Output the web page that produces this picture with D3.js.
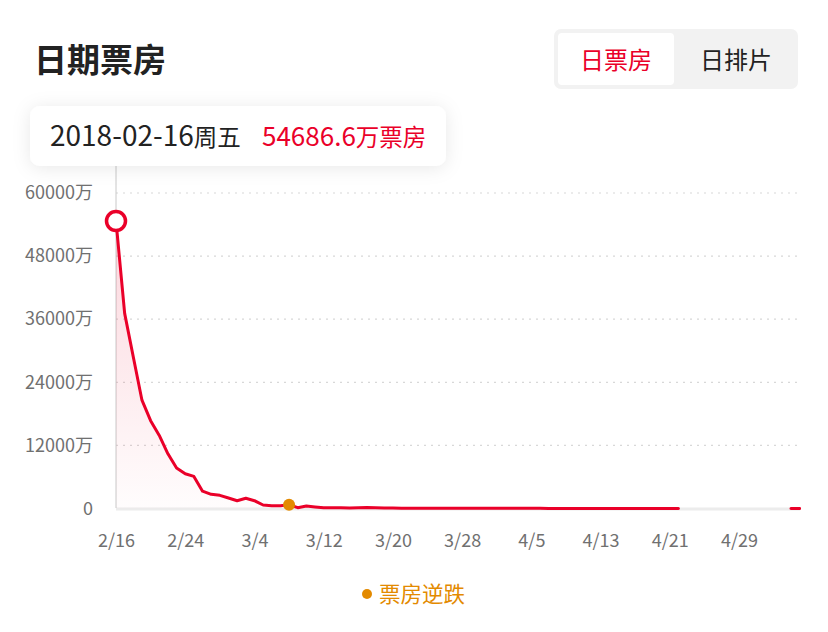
<!DOCTYPE html>
<html>
<head>
<meta charset="utf-8">
<script src="https://cdn.jsdelivr.net/npm/d3@7"></script>
<style>
  body { margin: 0; background: #fff; }
  svg { display: block; font-family: "Noto Sans CJK SC", "Noto Sans", sans-serif; }
</style>
</head>
<body>
<svg id="chart" width="828" height="632"></svg>
<script>
// daily box office (万), one value per day starting 2018-02-16
var startDay = "2018-02-16"
var boxOffice = [54686.6, 37100, 28800, 20600, 16700, 13900, 10400, 7700, 6600, 6100,
  3300, 2700, 2500, 2000, 1480, 1940, 1480, 670, 530, 520,
  720, 160, 470, 300, 150, 140, 120, 110, 130, 170,
  120, 90, 80, 70, 65, 60, 70, 60, 50, 45,
  40, 38, 36, 35, 33, 30, 28, 27, 25, 24,
  22, 21, 20, 19, 18, 17, 16, 15, 14, 13,
  12, 12, 11, 10, 10, 9]
// later screenings after the gap
var tailDays = ["2018-05-05", "2018-05-06"]
var tailValues = [3, 2]
// days where box office rose against the previous day
var reverseDays = ["2018-03-08"]
var yTicks = [0, 12000, 24000, 36000, 48000, 60000]
var xTicks = ["2018-02-16", "2018-02-24", "2018-03-04", "2018-03-12", "2018-03-20",
  "2018-03-28", "2018-04-05", "2018-04-13", "2018-04-21", "2018-04-29"]
var domainEnd = "2018-05-06"

var red = "#ea0029"
var orange = "#e38a00"
var parse = d3.timeParse("%Y-%m-%d")
var fmtDay = d3.timeFormat("%Y-%m-%d")

var series = boxOffice.map(function(v, i){
  return { date: d3.timeDay.offset(parse(startDay), i), value: v }
})
var gap = { date: d3.timeDay.offset(series[series.length-1].date, 1), value: null }
var tail = tailDays.map(function(d, i){ return { date: parse(d), value: tailValues[i] } })
var all = series.concat([gap], tail)

var svg = d3.select("#chart")

var defs = svg.append("defs")
var shadow = defs.append("filter").attr("id", "shadow")
  .attr("x", "-20%").attr("y", "-60%").attr("width", "140%").attr("height", "220%")
shadow.append("feDropShadow").attr("dx", 0).attr("dy", 2)
  .attr("stdDeviation", 9).attr("flood-color", "#000").attr("flood-opacity", 0.09)

var grad = defs.append("linearGradient").attr("id", "areaGrad")
  .attr("x1", 0).attr("y1", 0).attr("x2", 0).attr("y2", 1)
grad.append("stop").attr("offset", "0%").attr("stop-color", red).attr("stop-opacity", 0.16)
grad.append("stop").attr("offset", "100%").attr("stop-color", red).attr("stop-opacity", 0.01)

var x = d3.scaleTime()
  .domain([parse(startDay), parse(domainEnd)])
  .range([116, 799.6])
var y = d3.scaleLinear()
  .domain([0, 60000])
  .range([508.5, 193])

// title
svg.append("text").attr("x", 34).attr("y", 72)
  .attr("font-size", 33).attr("font-weight", "bold").attr("fill", "#222")
  .text("日期票房")

// toggle
svg.append("rect").attr("x", 554).attr("y", 29).attr("width", 244).attr("height", 60)
  .attr("rx", 7).attr("fill", "#f2f2f2")
svg.append("rect").attr("x", 558).attr("y", 33).attr("width", 116).attr("height", 52)
  .attr("rx", 4).attr("fill", "#fff")
svg.append("text").attr("x", 616).attr("y", 69).attr("text-anchor", "middle")
  .attr("font-size", 24).attr("fill", red).text("日票房")
svg.append("text").attr("x", 736).attr("y", 69).attr("text-anchor", "middle")
  .attr("font-size", 24).attr("fill", "#222").text("日排片")

// grid
svg.append("g").selectAll("line")
  .data(yTicks.filter(function(d){ return d > 0 }))
  .enter().append("line")
    .attr("x1", 116).attr("x2", 800)
    .attr("y1", function(d){ return y(d) }).attr("y2", function(d){ return y(d) })
    .attr("stroke", "#d8d8d8").attr("stroke-width", 1.2).attr("stroke-dasharray", "2,5")

// axis lines
svg.append("line").attr("x1", 116).attr("x2", 800).attr("y1", 509).attr("y2", 509)
  .attr("stroke", "#ececec").attr("stroke-width", 3)
svg.append("line").attr("x1", 116).attr("x2", 116).attr("y1", 130).attr("y2", 508)
  .attr("stroke", "#c8c8c8").attr("stroke-width", 1)

// y axis
var yAxis = svg.append("g").attr("transform", "translate(116,0)")
  .call(d3.axisLeft(y).tickValues(yTicks).tickSize(0).tickPadding(23)
    .tickFormat(function(d){ return d === 0 ? "0" : d + "万" }))
yAxis.select(".domain").remove()
yAxis.selectAll("text").attr("font-size", 18).attr("fill", "#707070")
  .attr("font-family", "\"Noto Sans CJK SC\", sans-serif")

// x axis
var xAxis = svg.append("g").attr("transform", "translate(0,508.5)")
  .call(d3.axisBottom(x).tickValues(xTicks.map(parse)).tickSize(0).tickPadding(26)
    .tickFormat(d3.timeFormat("%-m/%-d")))
xAxis.select(".domain").remove()
xAxis.selectAll("text").attr("font-size", 18).attr("fill", "#707070")
  .attr("font-family", "\"Noto Sans CJK SC\", sans-serif")

// area + line
var area = d3.area()
  .defined(function(d){ return d.value != null })
  .x(function(d){ return x(d.date) })
  .y0(y(0))
  .y1(function(d){ return y(d.value) })
svg.append("path").datum(series).attr("d", area).attr("fill", "url(#areaGrad)")

var line = d3.line()
  .defined(function(d){ return d.value != null })
  .x(function(d){ return x(d.date) })
  .y(function(d){ return y(d.value) })
svg.append("path").datum(all).attr("d", line)
  .attr("fill", "none").attr("stroke", red).attr("stroke-width", 3)
  .attr("stroke-linejoin", "round").attr("stroke-linecap", "round")

// reverse-drop markers
svg.append("g").selectAll("circle")
  .data(series.filter(function(d){ return reverseDays.indexOf(fmtDay(d.date)) >= 0 }))
  .enter().append("circle")
    .attr("cx", function(d){ return x(d.date) })
    .attr("cy", function(d){ return y(d.value) })
    .attr("r", 6).attr("fill", orange)

// selected point
var sel = series[0]
svg.append("circle").attr("cx", x(sel.date)).attr("cy", y(sel.value))
  .attr("r", 9.5).attr("fill", "#fff").attr("stroke", red).attr("stroke-width", 3.5)

// tooltip
var tip = svg.append("g")
tip.append("rect").attr("x", 30).attr("y", 106).attr("width", 416).attr("height", 60)
  .attr("rx", 10).attr("fill", "#fff").attr("filter", "url(#shadow)")
var tipText = tip.append("text").attr("x", 50).attr("y", 146)
tipText.append("tspan").attr("fill", "#222").attr("font-size", 28)
  .text(fmtDay(sel.date))
tipText.append("tspan").attr("fill", "#222").attr("font-size", 23.5).text("周五")
tipText.append("tspan").attr("x", 262).attr("fill", red).attr("font-size", 26)
  .text(sel.value)
tipText.append("tspan").attr("fill", red).attr("font-size", 23.5).text("万票房")

// legend
svg.append("circle").attr("cx", 367).attr("cy", 594).attr("r", 5).attr("fill", orange)
svg.append("text").attr("x", 379).attr("y", 602).attr("font-size", 21.5)
  .attr("fill", orange).text("票房逆跌")
</script>
</body>
</html>
